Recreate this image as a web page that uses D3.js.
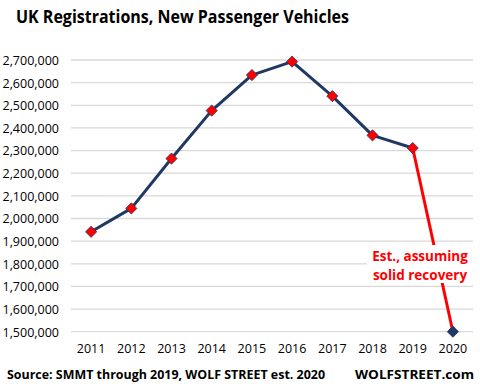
<!DOCTYPE html>
<html><head><meta charset="utf-8">
<script src="https://cdn.jsdelivr.net/npm/d3@7"></script>
<style>body{margin:0;background:#fff}svg{display:block}text{font-family:"Open Sans","Noto Sans",sans-serif}</style>
</head><body>
<svg id="c" width="480" height="391"></svg>
<script>
const years = ["2011","2012","2013","2014","2015","2016","2017","2018","2019","2020"];
const registrations = [1941253,2044609,2264737,2476435,2633503,2692786,2540617,2367147,2311140,1500000];
const yTicks = [1500000,1600000,1700000,1800000,1900000,2000000,2100000,2200000,2300000,2400000,2500000,2600000,2700000];
const title = "UK Registrations,  New Passenger Vehicles";
const source = "Source: SMMT through 2019, WOLF STREET est. 2020";
const brand = "WOLFSTREET.com";
const note = ["Est., assuming","solid recovery"];

const svg = d3.select("#c");
const x = d3.scaleBand().domain(years).range([71,473]);
const y = d3.scaleLinear().domain([1500000,2700000]).range([331.7,60]);
const fmt = d3.format(",");

// grid
svg.append("g").selectAll("line").data(yTicks).join("line")
  .attr("x1",71).attr("x2",473).attr("y1",d=>y(d)).attr("y2",d=>y(d))
  .attr("stroke","#d9d9d9").attr("stroke-width",1.3);

// y labels
const yAxis = d3.axisLeft(y).tickValues(yTicks).tickFormat(fmt).tickSize(0).tickPadding(0);
const ga = svg.append("g").attr("transform","translate(59,0)").call(yAxis);
ga.select(".domain").remove();
ga.selectAll("text").attr("font-size",12.5).attr("fill","#000").attr("dy","0.35em");

// x labels
const xAxis = d3.axisBottom(x).tickSize(0).tickPadding(0);
const gx = svg.append("g").attr("transform","translate(0,344)").call(xAxis);
gx.select(".domain").remove();
gx.selectAll("text").attr("font-size",12.5).attr("fill","#000").attr("dy","0.71em");

const pts = years.map((yr,i)=>({yr,v:registrations[i]}));
const cx = d=>x(d.yr)+x.bandwidth()/2;
const line = d3.line().x(cx).y(d=>y(d.v));
svg.append("path").attr("d",line(pts.slice(0,9))).attr("fill","none")
  .attr("stroke","#1f3864").attr("stroke-width",3).attr("stroke-linejoin","round");
svg.append("path").attr("d",line(pts.slice(8))).attr("fill","none")
  .attr("stroke","#ff0000").attr("stroke-width",3);

// annotation box
const ann = svg.append("g");
ann.append("rect").attr("x",367).attr("y",245).attr("width",108).attr("height",38).attr("fill","#fff");
ann.selectAll("text").data(note).join("text")
  .attr("x",420).attr("y",(d,i)=>261+i*18.5).attr("text-anchor","middle")
  .attr("font-size",13.5).attr("font-weight","bold").attr("fill","#ff0000").text(d=>d);

// markers
svg.append("g").selectAll("path").data(pts).join("path")
  .attr("d",d3.symbol(d3.symbolDiamond2,80))
  .attr("transform",d=>`translate(${cx(d)},${y(d.v)})`)
  .attr("fill",(d,i)=>i===9?"#1f3864":"#ff0000")
  .attr("stroke","#1f3864").attr("stroke-width",0.8);

// title
svg.append("text").attr("x",16).attr("y",23).attr("font-size",18).attr("font-weight","bold")
  .attr("textLength",333).attr("lengthAdjust","spacingAndGlyphs").text(title);
svg.append("text").attr("x",7).attr("y",379).attr("font-size",12.5).attr("font-weight","bold")
  .attr("textLength",318).attr("lengthAdjust","spacingAndGlyphs").text(source);
svg.append("text").attr("x",355).attr("y",379).attr("font-size",13).attr("font-weight","bold")
  .attr("textLength",119).attr("lengthAdjust","spacingAndGlyphs").text(brand);
</script>
</body></html>
